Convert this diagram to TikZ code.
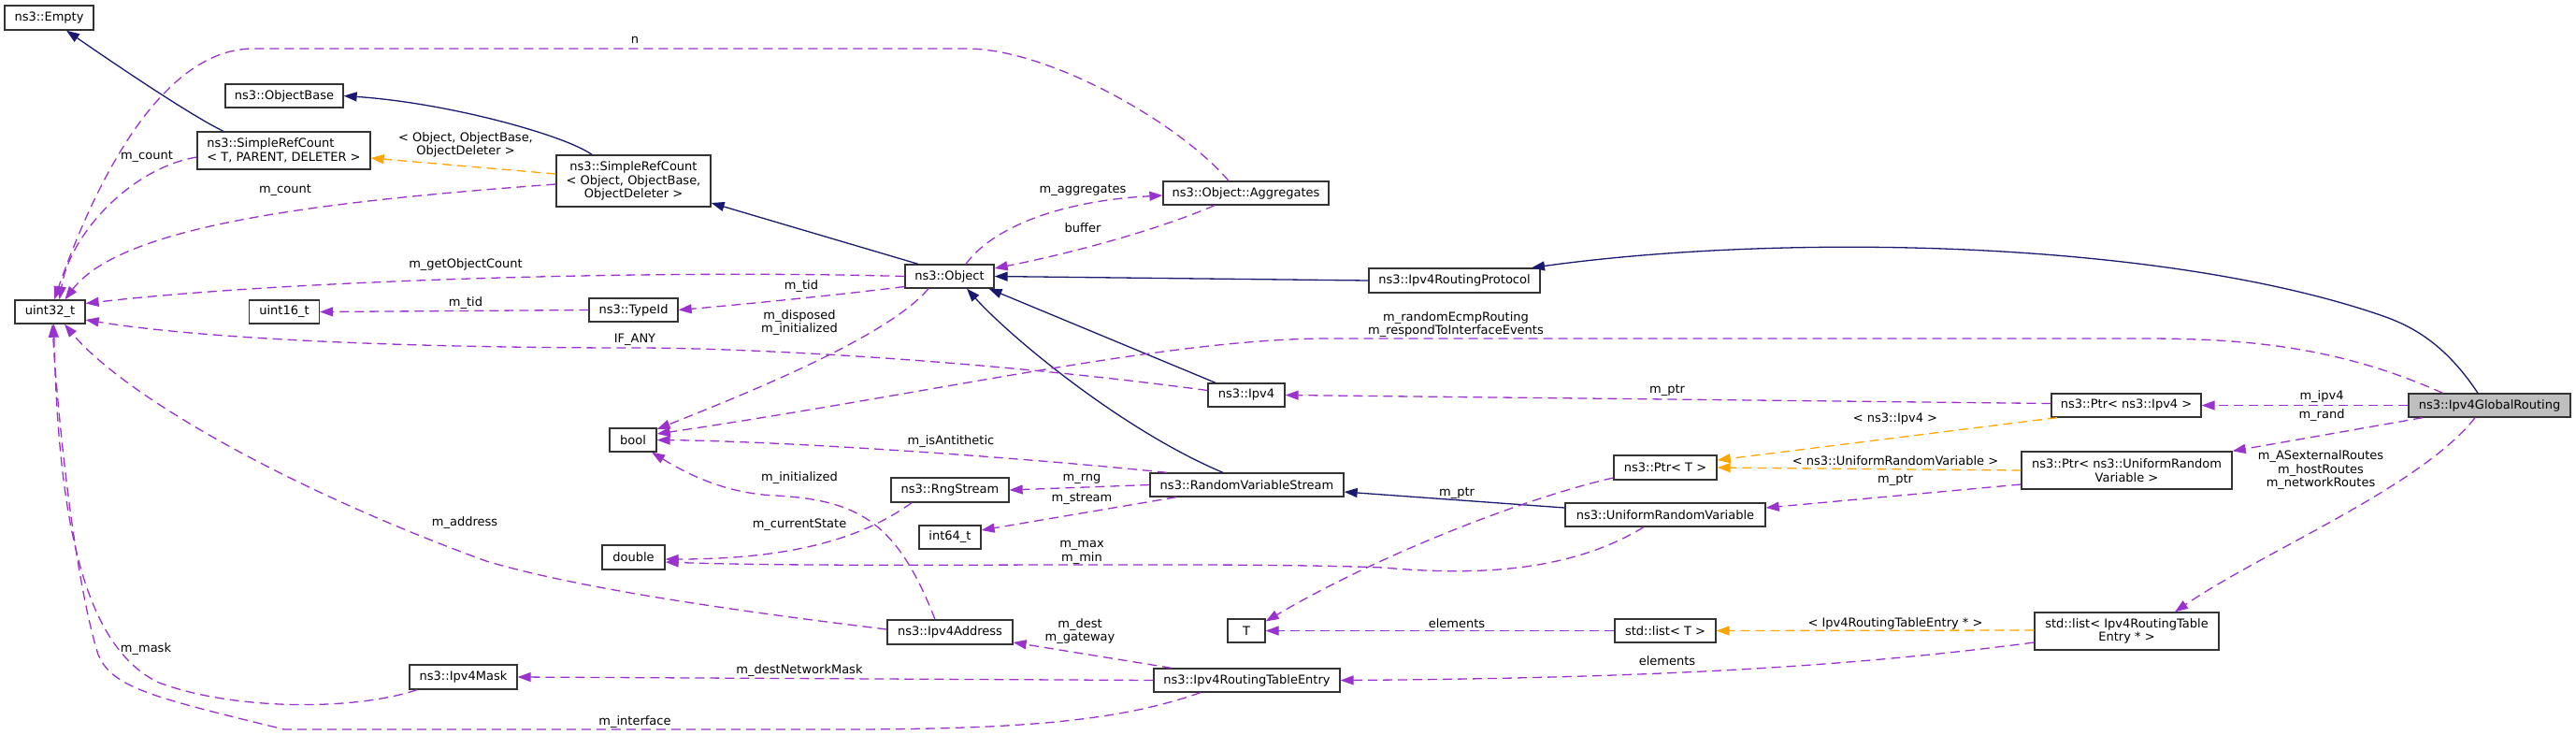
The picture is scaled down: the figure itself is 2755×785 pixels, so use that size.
\documentclass[tikz,border=0pt]{standalone}
\usepackage{fontspec}
\setmainfont{DejaVu Sans}
\usetikzlibrary{arrows.meta}

\definecolor{inhcol}{HTML}{191970}
\definecolor{usecol}{HTML}{9A32CD}
\definecolor{tplcol}{HTML}{FFA500}

\tikzset{
  cls/.style={draw=black!80, line width=1.3pt, fill=white, inner sep=0pt, align=center,
    font=\fontsize{13}{14.5}\selectfont},
  lbl/.style={inner sep=0pt, align=center, font=\fontsize{13}{14.5}\selectfont},
  inherit/.style={draw=inhcol, line width=1.3pt, -{Triangle[length=14pt,width=10pt]}},
  usage/.style={draw=usecol, line width=1.3pt, dash pattern=on 10pt off 6pt,
    -{Triangle[length=14pt,width=10pt]}},
  tmpl/.style={draw=tplcol, line width=1.3pt, dash pattern=on 10pt off 6pt,
    -{Triangle[length=14pt,width=10pt]}}
}

\begin{document}
\begin{tikzpicture}[x=1pt, y=-1pt]
\useasboundingbox (0,0) rectangle (2755,785);

% classes
\node[cls, minimum width=95pt, minimum height=26pt] (empty) at (52.5,19) {ns3::Empty};
\node[cls, minimum width=126pt, minimum height=25pt] (objbase) at (304,102.5) {ns3::ObjectBase};
\node[cls, align=left, minimum width=185pt, minimum height=40pt] (srct) at (303.5,161) {ns3::SimpleRefCount\\< T, PARENT, DELETER >};
\node[cls, minimum width=165pt, minimum height=55pt] (srco) at (677.5,193.5) {ns3::SimpleRefCount\\< Object, ObjectBase,\\ObjectDeleter >};
\node[cls, minimum width=75pt, minimum height=25pt] (uint32) at (53.5,333.5) {uint32\_t};
\node[cls, minimum width=75pt, minimum height=25pt] (uint16) at (304,333.5) {uint16\_t};
\node[cls, minimum width=95pt, minimum height=25pt] (typeid) at (677.5,331.5) {ns3::TypeId};
\node[cls, minimum width=95pt, minimum height=25pt] (object) at (1015.5,295.5) {ns3::Object};
\node[cls, minimum width=177pt, minimum height=25pt] (aggr) at (1332.5,206.5) {ns3::Object::Aggregates};
\node[cls, minimum width=183pt, minimum height=26pt] (protocol) at (1555.5,300) {ns3::Ipv4RoutingProtocol};
\node[cls, minimum width=50pt, minimum height=25pt] (bool) at (677,470.5) {bool};
\node[cls, minimum width=67pt, minimum height=26pt] (double) at (677.5,596) {double};
\node[cls, minimum width=82pt, minimum height=25pt] (ipv4) at (1333,422.5) {ns3::Ipv4};
\node[cls, minimum width=126pt, minimum height=26pt] (rng) at (1016,524) {ns3::RngStream};
\node[cls, minimum width=66pt, minimum height=25pt] (int64) at (1016,574.5) {int64\_t};
\node[cls, minimum width=207pt, minimum height=25pt] (rvs) at (1333.5,518.5) {ns3::RandomVariableStream};
\node[cls, minimum width=134pt, minimum height=26pt] (addr) at (1016,676) {ns3::Ipv4Address};
\node[cls, minimum width=199pt, minimum height=25pt] (rte) at (1333.5,727.5) {ns3::Ipv4RoutingTableEntry};
\node[cls, minimum width=115pt, minimum height=26pt] (mask) at (495.5,724) {ns3::Ipv4Mask};
\node[cls, minimum width=40pt, minimum height=25pt] (T) at (1333,674.5) {T};
\node[cls, minimum width=110pt, minimum height=26pt] (ptrt) at (1781,500) {ns3::Ptr< T >};
\node[cls, minimum width=214pt, minimum height=25pt] (urv) at (1781,550.5) {ns3::UniformRandomVariable};
\node[cls, minimum width=108pt, minimum height=25pt] (listt) at (1781,674.5) {std::list< T >};
\node[cls, minimum width=160pt, minimum height=25pt] (ptripv4) at (2274,433.5) {ns3::Ptr< ns3::Ipv4 >};
\node[cls, minimum width=225pt, minimum height=40pt] (ptrurv) at (2274.5,503) {ns3::Ptr< ns3::UniformRandom\\Variable >};
\node[cls, minimum width=197pt, minimum height=40pt] (listrte) at (2274.5,675) {std::list< Ipv4RoutingTable\\Entry * >};
\node[cls, fill=black!25, minimum width=173pt, minimum height=25pt] (global) at (2662.5,433.5) {ns3::Ipv4GlobalRouting};

% inheritance
\draw[inherit] ([xshift=-64.5pt]srct.north) .. controls (205,124) and (125,70) .. ([xshift=18.5pt]empty.south);
\draw[inherit] ([xshift=-44.5pt]srco.north) .. controls (605,145) and (480,110) .. (objbase.east);
\draw[inherit] ([xshift=-33.5pt]object.north) -- ([yshift=-23.5pt]srco.east);
\draw[inherit] ([yshift=7.5pt]urv.west) -- ([yshift=-7.5pt]rvs.east);
\draw[inherit] ([xshift=-25.5pt]rvs.north) .. controls (1200,460) and (1080,360) .. ([xshift=18.5pt]object.south);
\draw[inherit] ([xshift=-33pt]ipv4.north) -- ([xshift=42pt]object.south);
\draw[inherit] (protocol.west) -- (object.east);
\draw[inherit] ([xshift=-12.5pt]global.north) .. controls (2610,360) and (2570,345) .. (2540,335)
  .. controls (2300,255) and (1900,250) .. ([xshift=82.5pt]protocol.north);

% template instances
\draw[tmpl] ([yshift=7.5pt]srco.west) -- ([yshift=-8pt]srct.east);
\draw[tmpl] ([xshift=-74pt]ptripv4.south) -- ([yshift=8pt]ptrt.east);
\draw[tmpl] (ptrurv.west) -- (ptrt.east);
\draw[tmpl] ([yshift=1pt]listrte.west) -- (listt.east);

% members
\draw[usage] ([xshift=-18.5pt]aggr.north) .. controls (1260,130) and (1120,52) .. (1034,52) -- (268,52)
  .. controls (170,55) and (100,200) .. ([xshift=4.5pt]uint32.north);
\draw[usage] ([yshift=-7pt]srct.west) .. controls (140,180) and (75,250) .. ([xshift=10pt]uint32.north);
\draw[usage] ([yshift=-3.5pt]srco.west) .. controls (350,215) and (130,240) .. ([xshift=16pt]uint32.north);
\draw[usage] (object.west) .. controls (700,288) and (300,300) .. ([yshift=9pt]uint32.east);
\draw[usage] (typeid.west) -- (uint16.east);
\draw[usage] ([yshift=-11pt]object.west) .. controls (900,315) and (800,325) .. (typeid.east);
\draw[usage] ([yshift=5pt]ipv4.west) .. controls (1050,385) and (800,372) .. (679,372)
  .. controls (400,372) and (200,360) .. ([yshift=-8.5pt]uint32.east);
\draw[usage] ([xshift=-22.5pt]object.south) .. controls (950,360) and (800,420) .. ([yshift=11.5pt]bool.east);
\draw[usage] ([xshift=-50pt]global.north) .. controls (2500,370) and (2400,362) .. (2292,362) -- (1420,362)
  .. controls (1250,362) and (1000,420) .. ([yshift=6.5pt]bool.east);
\draw[usage] ([xshift=-85.5pt]rvs.north) .. controls (1100,490) and (850,472) .. (bool.east);
\draw[usage] ([xshift=-16pt]addr.north) .. controls (960,560) and (920,535) .. (830,530)
  .. controls (780,528) and (740,510) .. ([xshift=20pt]bool.south);
\draw[usage] (rvs.west) -- (rng.east);
\draw[usage] ([xshift=-75.5pt]rvs.south) -- ([yshift=7.5pt]int64.east);
\draw[usage] ([xshift=-41pt]rng.south) .. controls (930,570) and (860,598) .. ([yshift=-2pt]double.east);
\draw[usage] ([xshift=-23pt]urv.south) .. controls (1690,605) and (1600,618) .. (1480,607)
  .. controls (1300,600) and (900,608) .. ([yshift=-5pt]double.east);
\draw[usage] ([xshift=-33.5pt]aggr.south) .. controls (1240,245) and (1150,270) .. ([yshift=8.5pt]object.east);
\draw[usage] ([xshift=17.5pt]object.north) .. controls (1060,245) and (1130,215) .. ([yshift=-2.5pt]aggr.west);
\draw[usage] ([yshift=2pt]ptripv4.west) -- (ipv4.east);
\draw[usage] ([yshift=-15pt]ptrurv.west) -- ([yshift=7.5pt]urv.east);
\draw[usage] ([yshift=-11pt]ptrt.west) .. controls (1640,530) and (1480,590) .. ([yshift=10pt]T.east);
\draw[usage] (listt.west) -- (T.east);
\draw[usage] ([yshift=-12pt]listrte.west) .. controls (2000,710) and (1800,725) .. (rte.east);
\draw[usage] (global.west) -- (ptripv4.east);
\draw[usage] ([xshift=-71.5pt]global.south) -- (ptrurv.north east);
\draw[usage] ([xshift=-15.5pt]global.south) .. controls (2590,520) and (2420,590) .. ([xshift=51.5pt]listrte.north);
\draw[usage] ([xshift=-80.5pt]rte.north) -- ([yshift=-11pt]addr.east);
\draw[usage] (rte.west) -- (mask.east);
\draw[usage] ([xshift=-49.5pt]rte.south) .. controls (1200,770) and (1100,780) .. (900,780) -- (304,780)
  .. controls (160,745) and (120,735) .. (105,700) .. controls (80,620) and (62,450) .. ([xshift=2.5pt]uint32.south);
\draw[usage] ([xshift=-49.5pt]mask.south) .. controls (380,760) and (250,760) .. (170,730)
  .. controls (85,690) and (62,540) .. ([xshift=4pt]uint32.south);
\draw[usage] ([yshift=3pt]addr.west) .. controls (800,655) and (620,630) .. (520,600)
  .. controls (300,520) and (130,420) .. ([xshift=15.5pt]uint32.south);

% edge labels
\node[lbl] (ln) at (679,43) {n};
\node[lbl] (lsrc) at (498,155) {< Object, ObjectBase,\\ObjectDeleter >};
\node[lbl] (lcount1) at (157,167) {m\_count};
\node[lbl] (lcount2) at (305,203) {m\_count};
\node[lbl] (lgoc) at (498,283) {m\_getObjectCount};
\node[lbl] (ltid1) at (498,324) {m\_tid};
\node[lbl] (ltid2) at (857,306) {m\_tid};
\node[lbl] (laggr) at (1158,203) {m\_aggregates};
\node[lbl] (lbuf) at (1158,244) {buffer};
\node[lbl] (lifany) at (679,363) {IF\_ANY};
\node[lbl] (ldisp) at (855,345) {m\_disposed\\m\_initialized};
\node[lbl] (lecmp) at (1557,347) {m\_randomEcmpRouting\\m\_respondToInterfaceEvents};
\node[lbl] (lptr1) at (1783,417) {m\_ptr};
\node[lbl] (lipv4t) at (2027,448) {< ns3::Ipv4 >};
\node[lbl] (lurvt) at (2027,493) {< ns3::UniformRandomVariable >};
\node[lbl] (lptr2) at (2027,513) {m\_ptr};
\node[lbl] (lptr3) at (1558,527) {m\_ptr};
\node[lbl] (lanti) at (1017,472) {m\_isAntithetic};
\node[lbl] (lrng) at (1157,512) {m\_rng};
\node[lbl] (lstream) at (1157,533) {m\_stream};
\node[lbl] (linit) at (855,511) {m\_initialized};
\node[lbl] (lstate) at (855,561) {m\_currentState};
\node[lbl] (lmaxmin) at (1157,591) {m\_max\\m\_min};
\node[lbl] (laddr) at (497,559) {m\_address};
\node[lbl] (ldest) at (1155,675) {m\_dest\\m\_gateway};
\node[lbl] (lnetmask) at (855,717) {m\_destNetworkMask};
\node[lbl] (lmask) at (156,694) {m\_mask};
\node[lbl] (liface) at (679,772) {m\_interface};
\node[lbl] (lelem1) at (1558,667) {elements};
\node[lbl] (lrtet) at (2027,667) {< Ipv4RoutingTableEntry * >};
\node[lbl] (lelem2) at (1783,707) {elements};
\node[lbl] (lipv4) at (2483,424) {m\_ipv4};
\node[lbl] (lrand) at (2483,444) {m\_rand};
\node[lbl] (lroutes) at (2482,503) {m\_ASexternalRoutes\\m\_hostRoutes\\m\_networkRoutes};
\end{tikzpicture}
\end{document}
